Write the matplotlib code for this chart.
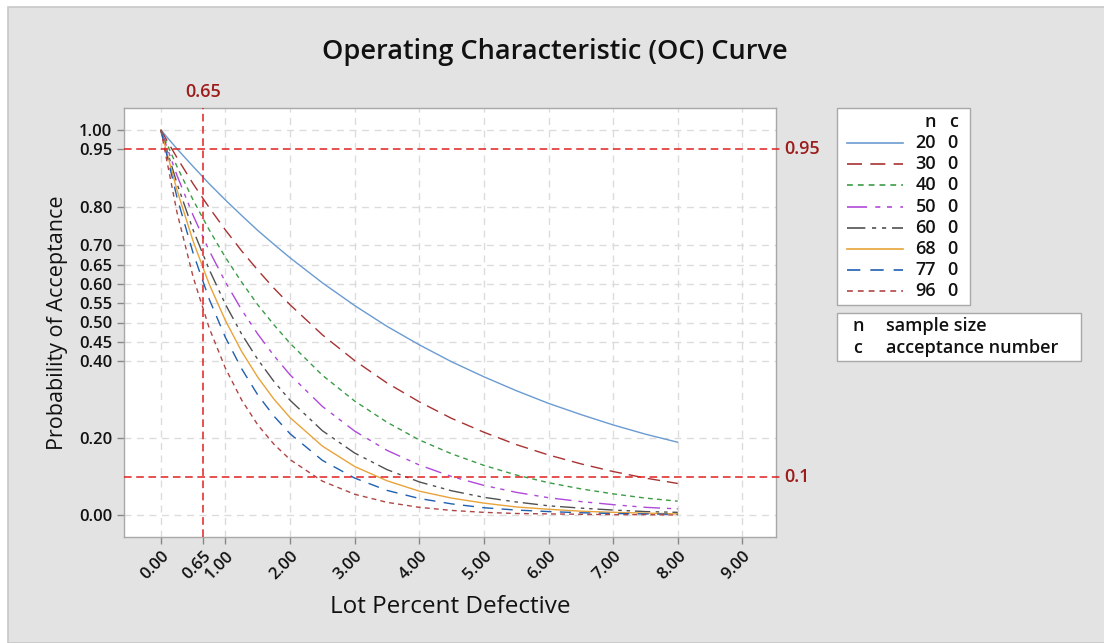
import matplotlib
matplotlib.use("Agg")
import matplotlib.pyplot as plt
from matplotlib.patches import Rectangle
from matplotlib.lines import Line2D

plt.rcParams['font.family'] = ['Open Sans', 'DejaVu Sans']

# ---- data ----
lot_pct = [0, 0.25, 0.5, 0.75, 1.0, 1.25, 1.5, 1.75, 2.0, 2.5, 3.0, 3.5, 4.0,
           4.5, 5.0, 5.5, 6.0, 6.5, 7.0, 7.5, 8.0]
sample_sizes = [20, 30, 40, 50, 60, 68, 77, 96]
acceptance_numbers = [0, 0, 0, 0, 0, 0, 0, 0]
pa_n20 = [1.0, 0.951, 0.905, 0.860, 0.818, 0.778, 0.739, 0.703, 0.668, 0.603, 0.544,
          0.490, 0.442, 0.398, 0.359, 0.323, 0.290, 0.261, 0.234, 0.210, 0.189]
pa_n30 = [1.0, 0.928, 0.860, 0.798, 0.740, 0.686, 0.636, 0.589, 0.546, 0.468, 0.401,
          0.343, 0.294, 0.251, 0.215, 0.183, 0.156, 0.133, 0.113, 0.096, 0.082]
pa_n40 = [1.0, 0.905, 0.818, 0.740, 0.669, 0.605, 0.546, 0.494, 0.446, 0.363, 0.296,
          0.241, 0.195, 0.159, 0.129, 0.104, 0.084, 0.068, 0.055, 0.044, 0.036]
pa_n50 = [1.0, 0.882, 0.778, 0.686, 0.605, 0.533, 0.470, 0.414, 0.364, 0.282, 0.218,
          0.168, 0.130, 0.100, 0.077, 0.059, 0.045, 0.035, 0.027, 0.020, 0.016]
pa_n60 = [1.0, 0.861, 0.740, 0.637, 0.547, 0.470, 0.404, 0.347, 0.298, 0.219, 0.161,
          0.118, 0.086, 0.063, 0.046, 0.034, 0.024, 0.018, 0.013, 0.009, 0.007]
pa_n68 = [1.0, 0.844, 0.711, 0.599, 0.505, 0.425, 0.358, 0.301, 0.253, 0.179, 0.126,
          0.089, 0.062, 0.044, 0.031, 0.021, 0.015, 0.010, 0.007, 0.005, 0.003]
pa_n77 = [1.0, 0.825, 0.680, 0.560, 0.461, 0.380, 0.312, 0.257, 0.211, 0.142, 0.096,
          0.064, 0.043, 0.029, 0.019, 0.013, 0.009, 0.006, 0.004, 0.003, 0.002]
pa_n96 = [1.0, 0.786, 0.618, 0.485, 0.381, 0.299, 0.234, 0.184, 0.144, 0.088, 0.054,
          0.033, 0.020, 0.012, 0.007, 0.004, 0.003, 0.002, 0.001, 0.001, 0.000]
series = [pa_n20, pa_n30, pa_n40, pa_n50, pa_n60, pa_n68, pa_n77, pa_n96]

aql = 0.65
ref_levels = [0.95, 0.1]
y_ticks = [0.00, 0.20, 0.40, 0.45, 0.50, 0.55, 0.60, 0.65, 0.70, 0.80, 0.95, 1.00]
x_ticks = [0, 0.65, 1, 2, 3, 4, 5, 6, 7, 8, 9]

colors = ['#6a9bd1', '#a83232', '#3c9c46', '#b048d8', '#505050', '#e8a33a', '#1f5fb0', '#b04545']
styles = ['-', (0, (9, 5)), (0, (3.5, 3)), (0, (12, 5, 3, 4, 3, 5)), (0, (11, 4, 2.5, 3.5, 2.5, 3.5)),
          '-', (0, (8, 6)), (0, (3.5, 3))]

W, H = 1104, 643
fig = plt.figure(figsize=(W / 100, H / 100), dpi=100)
fig.patch.set_facecolor('white')
fig.add_artist(Rectangle((8 / W, 0), 1, 1 - 7 / H, transform=fig.transFigure,
                         facecolor='#e3e3e3', edgecolor='#c8c8c8', linewidth=1.2, zorder=-10))

ax = fig.add_axes([124 / W, 1 - 537 / H, (776 - 124) / W, (537 - 108) / H])
ax.set_facecolor('white')
for s in ax.spines.values():
    s.set_color('#a8a8a8')
    s.set_linewidth(1.0)

ax.set_xlim(-0.57, 9.52)
ax.set_ylim(-0.057, 1.057)

grid_kw = dict(color='#dcdcdc', linestyle=(0, (5, 4)), linewidth=1.0, zorder=0)
for xv in x_ticks:
    if xv != aql:
        ax.axvline(xv, **grid_kw)
for yv in y_ticks:
    if yv not in ref_levels:
        ax.axhline(yv, **grid_kw)

for ys, c, ls in zip(series, colors, styles):
    ax.plot(lot_pct, ys, color=c, linestyle=ls, linewidth=1.0, zorder=3)

red = '#e02020'
lab_red = '#9c1c1c'
ax.axvline(aql, color=red, linestyle=(0, (5, 3)), linewidth=1.1, zorder=4)
for lv in ref_levels:
    ax.plot([-0.57, 9.52 + 0.08], [lv, lv], color=red, linestyle=(0, (5, 3)), linewidth=1.1,
            zorder=4, clip_on=False)
    ax.text(9.52 + 0.12, lv, f"{lv:g}", color=lab_red, fontsize=13, fontweight='semibold',
            va='center', ha='left')
ax.text(aql, 1.057 + 0.018, f"{aql:g}", color=lab_red, fontsize=13, fontweight='semibold',
        va='bottom', ha='center')

ax.set_xticks(x_ticks)
ax.set_xticklabels([f"{v:.2f}" for v in x_ticks], rotation=45, ha='right',
                   rotation_mode='anchor', fontsize=12)
ax.set_yticks(y_ticks)
ax.set_yticklabels([f"{v:.2f}" for v in y_ticks], fontsize=12)
for t in ax.get_xticklabels() + ax.get_yticklabels():
    t.set_fontweight('semibold')
ax.tick_params(axis='both', colors='#888888', labelcolor='#111111', length=5, width=1.0)
ax.tick_params(axis='x', pad=3)

ax.set_xlabel("Lot Percent Defective", fontsize=17.5, labelpad=9, color='#111111')
ax.set_ylabel("Probability of Acceptance", fontsize=15.5, labelpad=8, color='#111111')
fig.text(0.503, 1 - 52 / H, "Operating Characteristic (OC) Curve", ha='center', va='center',
         fontsize=19.5, fontweight='semibold', color='#111111')

# legend box 1 (built by hand in figure pixels)
def fx(px):
    return px / W

def fy(py):
    return 1 - py / H

fig.add_artist(Rectangle((fx(837), fy(305)), fx(970) - fx(837), fy(108) - fy(305),
                         transform=fig.transFigure, facecolor='white', edgecolor='#a8a8a8',
                         linewidth=1.0))
txt_kw = dict(fontsize=13, fontweight='semibold', va='center', color='#111111')
fig.text(fx(936), fy(122), "n", ha='right', **txt_kw)
fig.text(fx(958), fy(122), "c", ha='right', **txt_kw)
for i, (n, a, c, ls) in enumerate(zip(sample_sizes, acceptance_numbers, colors, styles)):
    yy = 143 + 21.2 * i
    fig.add_artist(Line2D([fx(847), fx(903)], [fy(yy), fy(yy)], color=c, linestyle=ls,
                          linewidth=1.2, transform=fig.transFigure))
    fig.text(fx(936), fy(yy), f"{n}", ha='right', **txt_kw)
    fig.text(fx(958), fy(yy), f"{a}", ha='right', **txt_kw)

# legend box 2
fig.add_artist(Rectangle((fx(837), fy(361)), fx(1081) - fx(837), fy(313) - fy(361),
                         transform=fig.transFigure, facecolor='white', edgecolor='#a8a8a8',
                         linewidth=1.0))
fig.text(fx(853), fy(326), "n", ha='left', **txt_kw)
fig.text(fx(886), fy(326), "sample size", ha='left', **txt_kw)
fig.text(fx(853), fy(348), "c", ha='left', **txt_kw)
fig.text(fx(886), fy(348), "acceptance number", ha='left', **txt_kw)

fig.savefig("out.png", dpi=100)
